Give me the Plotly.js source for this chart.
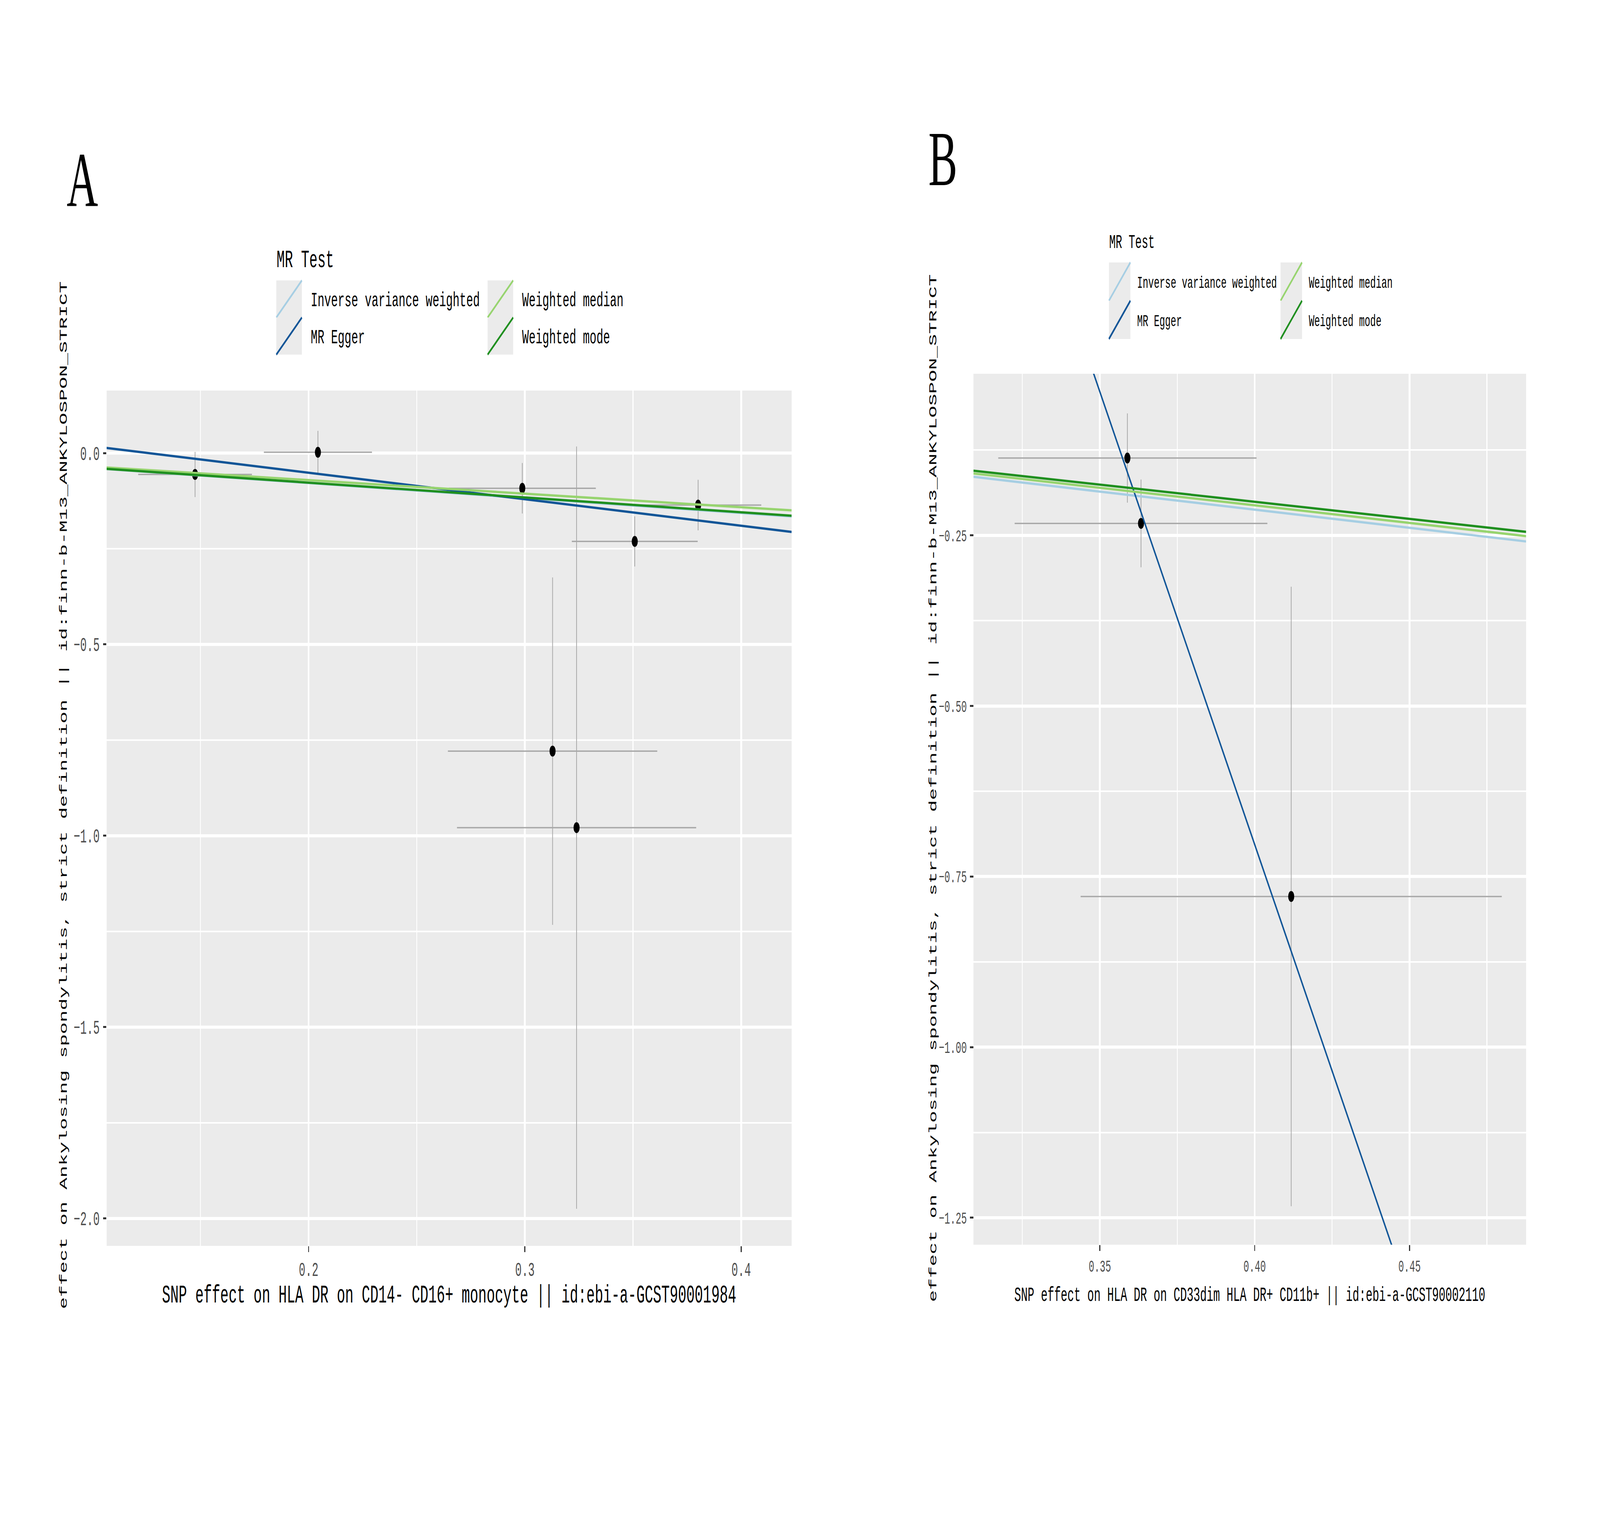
<!DOCTYPE html>
<html>
<head>
<meta charset="utf-8">
<script src="https://cdn.plot.ly/plotly-3.0.1.min.js"></script>
<style>
html, body { margin: 0; padding: 0; background: #ffffff; overflow: hidden; }
#chart { position: absolute; left: 0; top: 0; width: 7383px; height: 3938px; transform-origin: 0 0; }
</style>
</head>
<body>
<div id="chart"></div>
<script>
// ---------------- data ----------------
const methods = ["Inverse variance weighted", "MR Egger", "Weighted median", "Weighted mode"];

// Panel A : HLA DR on CD14- CD16+ monocyte
const snpA_exposure   = [0.1475, 0.2043, 0.2988, 0.3801, 0.3508, 0.3128, 0.3239];
const snpA_outcome    = [-0.056, 0.002, -0.092, -0.136, -0.231, -0.779, -0.979];
const snpA_seExposure = [0.0263, 0.0250, 0.0340, 0.0292, 0.0291, 0.0484, 0.0553];
const snpA_seOutcome  = [0.059, 0.056, 0.066, 0.066, 0.0655, 0.454, 0.996];
const mrA_intercept   = [0, 0.0871, 0, 0];
const mrA_slope       = [-0.392, -0.6927, -0.354, -0.387];

// Panel B : HLA DR on CD33dim HLA DR+ CD11b+
const snpB_exposure   = [0.3589, 0.3633, 0.4118];
const snpB_outcome    = [-0.1367, -0.2325, -0.7792];
const snpB_seExposure = [0.0417, 0.0408, 0.0680];
const snpB_seOutcome  = [0.0654, 0.0643, 0.4539];
const mrB_intercept   = [0, 4.605, 0, 0];
const mrB_slope       = [-0.531, -13.27, -0.515, -0.502];

const xTitleA = "SNP effect on HLA DR on CD14- CD16+ monocyte || id:ebi-a-GCST90001984";
const xTitleB = "SNP effect on HLA DR on CD33dim HLA DR+ CD11b+ || id:ebi-a-GCST90002110";
const yTitle  = "effect on Ankylosing spondylitis, strict definition || id:finn-b-M13_ANKYLOSPON_STRICT";
const legendTitle = "MR Test";
const panelLabels = ["A", "B"];

// ---------------- styling / layout ----------------
// the chart is laid out on a 7383 x 3938 grid and fitted to the actual window
const W0 = 7383, H0 = 3938;
const vw = window.innerWidth || W0;
const vh = window.innerHeight || H0;
const chartDiv = document.getElementById("chart");
chartDiv.style.transform = "scale(" + (vw / W0) + "," + (vh / H0) + ")";

const fx = p => p / W0;
const fy = p => 1 - p / H0;

const mono = "Liberation Mono, DejaVu Sans Mono, monospace";
const serif = "Liberation Serif, Times New Roman, serif";
const methodColors = ["#a6cee3", "#115597", "#97d46f", "#1f8f1f"];
const errColor = "#a8a8a8";
const lineW = 6;

const panels = [
  { xa: "x", ya: "y", xr: [0.1066, 0.42335], yr: [-2.0719, 0.1633],
    ex: snpA_exposure, ey: snpA_outcome, sx: snpA_seExposure, sy: snpA_seOutcome,
    a: mrA_intercept, b: mrA_slope },
  { xa: "x2", ya: "y2", xr: [0.3092, 0.48765], yr: [-1.2895, -0.0132],
    ex: snpB_exposure, ey: snpB_outcome, sx: snpB_seExposure, sy: snpB_seOutcome,
    a: mrB_intercept, b: mrB_slope }
];

const traces = [];
panels.forEach(p => {
  traces.push({
    type: "scatter", mode: "markers", xaxis: p.xa, yaxis: p.ya,
    x: p.ex, y: p.ey, showlegend: false, hoverinfo: "x+y",
    marker: { color: "#000000", size: 28 },
    error_x: { type: "data", array: p.sx, visible: true, color: errColor, thickness: 3.5, width: 0 },
    error_y: { type: "data", array: p.sy, visible: true, color: errColor, thickness: 3.5, width: 0 }
  });
  methods.forEach((m, i) => {
    const xs = [p.xr[0], p.xr[1]];
    traces.push({
      type: "scatter", mode: "lines", xaxis: p.xa, yaxis: p.ya, name: m,
      x: xs, y: xs.map(v => p.a[i] + p.b[i] * v), showlegend: false,
      line: { color: methodColors[i], width: lineW }
    });
  });
});

function axisCommon(extra) {
  return Object.assign({
    showgrid: true, gridcolor: "#ffffff", gridwidth: 8,
    zeroline: false, showline: false, automargin: false,
    ticks: "outside", ticklen: 15, tickwidth: 5, tickcolor: "#333333",
    tickmode: "linear", tick0: 0
  }, extra);
}
function minorGrid(dt) {
  return { dtick: dt, tick0: 0, showgrid: true, gridcolor: "#ffffff", gridwidth: 4, ticks: "" };
}

const layout = {
  width: W0, height: H0,
  margin: { l: 0, r: 0, t: 0, b: 0, pad: 0 },
  paper_bgcolor: "#ffffff", plot_bgcolor: "#ebebeb",
  showlegend: false,
  xaxis: axisCommon({
    domain: [fx(492), fx(3653)], range: panels[0].xr, anchor: "y",
    dtick: 0.1, tickformat: ".1f", minor: minorGrid(0.05),
    tickfont: { family: mono, size: 50, color: "#4d4d4d" }, ticklabelstandoff: 1,
    title: { text: xTitleA, font: { family: mono, size: 64, color: "#000000" }, standoff: 4 }
  }),
  yaxis: axisCommon({
    domain: [fy(3190), fy(1000)], range: panels[0].yr, anchor: "x",
    dtick: 0.5, tickformat: ".1f", minor: minorGrid(0.25),
    tickfont: { family: mono, size: 50, color: "#4d4d4d" }, ticklabelstandoff: 6
  }),
  xaxis2: axisCommon({
    domain: [fx(4492), fx(7042)], range: panels[1].xr, anchor: "y2",
    dtick: 0.05, tickformat: ".2f", minor: minorGrid(0.025),
    tickfont: { family: mono, size: 43, color: "#4d4d4d" }, ticklabelstandoff: 1,
    title: { text: xTitleB, font: { family: mono, size: 51, color: "#000000" }, standoff: 27 }
  }),
  yaxis2: axisCommon({
    domain: [fy(3187), fy(957)], range: panels[1].yr, anchor: "x2",
    dtick: 0.25, tickformat: ".2f", minor: minorGrid(0.125),
    tickfont: { family: mono, size: 43, color: "#4d4d4d" }, ticklabelstandoff: 6
  }),
  shapes: [],
  annotations: []
};

// y-axis titles (placed like the ggplot originals)
[[295, 2036], [4306, 2018]].forEach(([cx, cy]) => {
  layout.annotations.push({
    xref: "paper", yref: "paper", x: fx(cx), y: fy(cy), xanchor: "center", yanchor: "middle",
    text: yTitle, textangle: -90, showarrow: false, borderpad: 0,
    font: { family: mono, size: 51, color: "#000000" }
  });
});

// panel letters
layout.annotations.push({
  xref: "paper", yref: "paper", x: fx(380), y: fy(460), xanchor: "center", yanchor: "middle",
  text: panelLabels[0], showarrow: false, font: { family: serif, size: 200, color: "#000000" }
});
layout.annotations.push({
  xref: "paper", yref: "paper", x: fx(4350), y: fy(406), xanchor: "center", yanchor: "middle",
  text: panelLabels[1], showarrow: false, font: { family: serif, size: 200, color: "#000000" }
});

// legends (ggplot-style, 2 columns, column-major)
const legendGeo = [
  { titleX: 1275, titleY: 668, titleSize: 63, keyW: 118, keyH: 95, colX: [1275, 2250],
    rowY: 718, labelGap: 158, labelSize: 52 },
  { titleX: 5117, titleY: 621, titleSize: 50, keyW: 99, keyH: 98, colX: [5117, 5909],
    rowY: 672, labelGap: 129, labelSize: 43 }
];
legendGeo.forEach(g => {
  layout.annotations.push({
    xref: "paper", yref: "paper", x: fx(g.titleX), y: fy(g.titleY), xanchor: "left", yanchor: "middle",
    text: legendTitle, showarrow: false, borderpad: 0,
    font: { family: mono, size: g.titleSize, color: "#000000" }
  });
  methods.forEach((m, i) => {
    const col = Math.floor(i / 2), row = i % 2;
    const x0 = g.colX[col], x1 = x0 + g.keyW;
    const y0 = g.rowY + row * g.keyH, y1 = y0 + g.keyH;
    layout.shapes.push({
      type: "rect", xref: "paper", yref: "paper", layer: "above",
      x0: fx(x0), x1: fx(x1), y0: fy(y1), y1: fy(y0),
      fillcolor: "#ebebeb", line: { width: 0 }
    });
    layout.shapes.push({
      type: "line", xref: "paper", yref: "paper", layer: "above",
      x0: fx(x0), y0: fy(y1), x1: fx(x1), y1: fy(y0),
      line: { color: methodColors[i], width: lineW }
    });
    layout.annotations.push({
      xref: "paper", yref: "paper", x: fx(x0 + g.labelGap), y: fy((y0 + y1) / 2 + 5),
      xanchor: "left", yanchor: "middle", text: m, showarrow: false, borderpad: 0,
      font: { family: mono, size: g.labelSize, color: "#000000" }
    });
  });
});

Plotly.newPlot(chartDiv, traces, layout, { staticPlot: true, displayModeBar: false });
</script>
</body>
</html>
